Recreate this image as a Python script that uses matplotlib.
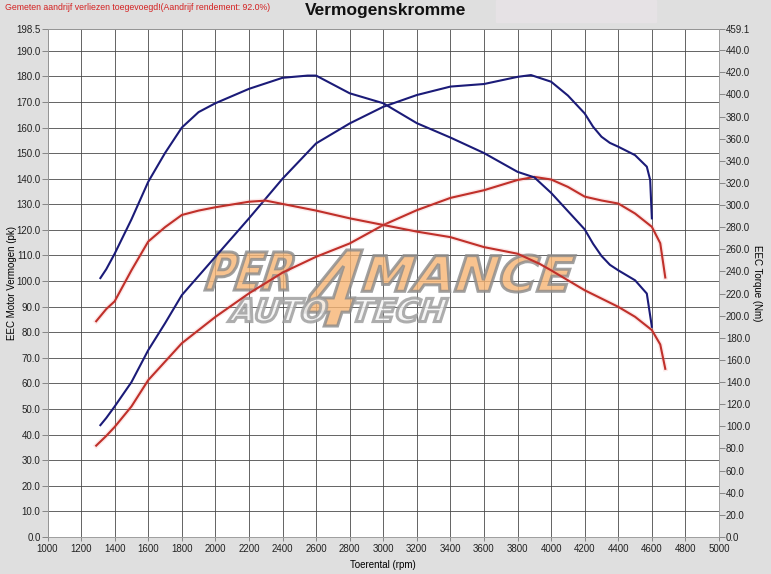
import numpy as np
import matplotlib
matplotlib.use('Agg')
import matplotlib.pyplot as plt
from matplotlib.textpath import TextPath
from matplotlib.patches import PathPatch, Rectangle
from matplotlib.font_manager import FontProperties
from matplotlib.transforms import Affine2D
from matplotlib.ticker import FormatStrFormatter

plt.rcParams['font.family'] = ['Liberation Sans', 'DejaVu Sans']

# --- data ---
rpm_tq_tuned = [1315, 1350, 1400, 1500, 1600, 1700, 1800, 1900, 2000, 2200, 2400, 2550, 2600,
                2800, 3000, 3200, 3400, 3600, 3800, 3900, 4000, 4200, 4250, 4300, 4350, 4400,
                4500, 4570, 4600]
tq_tuned = [234, 242, 256, 287, 321, 347, 370, 384, 392, 405, 415, 417, 417,
            401, 392, 374, 361, 347, 330, 325, 311, 278, 265, 254, 246, 241,
            232, 220, 190]

rpm_tq_stock = [1290, 1350, 1400, 1500, 1600, 1700, 1800, 1900, 2000, 2200, 2300, 2400, 2600,
                2800, 3000, 3200, 3400, 3600, 3800, 3930, 4000, 4200, 4400, 4500, 4600, 4650, 4680]
tq_stock = [195, 206, 213, 241, 267, 280, 291, 295, 298, 303, 304, 301, 295,
            288, 282, 276, 271, 262, 256, 247, 241, 223, 208, 199, 187, 174, 152]

rpm_pk_tuned = [1315, 1350, 1400, 1500, 1600, 1700, 1800, 2000, 2200, 2400, 2600, 2800, 3000,
                3200, 3400, 3600, 3800, 3880, 4000, 4100, 4200, 4250, 4300, 4350, 4400, 4500,
                4570, 4590, 4600]
pk_tuned = [43.7, 46.5, 51.0, 60.5, 73.0, 83.5, 94.5, 109.5, 124.5, 140.0, 153.8, 161.6, 168.1,
            172.7, 176.0, 177.0, 179.8, 180.5, 177.9, 172.5, 165.5, 160.3, 156.4, 154.0, 152.5, 149.2,
            144.7, 139.5, 124.5]

rpm_pk_stock = [1290, 1350, 1400, 1500, 1600, 1700, 1800, 2000, 2200, 2400, 2600, 2800, 3000,
                3200, 3400, 3600, 3800, 3900, 4000, 4100, 4200, 4300, 4400, 4500, 4600, 4650, 4680]
pk_stock = [35.7, 39.5, 43.0, 51.0, 61.3, 68.5, 75.7, 86.0, 95.2, 103.3, 109.5, 114.7, 121.9,
            127.7, 132.5, 135.5, 139.5, 140.7, 139.7, 136.8, 133.0, 131.5, 130.3, 126.4, 121.2,
            114.8, 101.4]

x_ticks = list(range(1000, 5001, 200))
pk_ticks = list(range(0, 191, 10)) + [198.5]
nm_ticks = list(range(0, 441, 20)) + [459.1]

W, H = 771, 574
BLUE = '#1b1b78'
RED = '#c0302a'
BG = '#dfdfdf'

fig = plt.figure(figsize=(W / 100, H / 100), dpi=100, facecolor=BG)
ax = fig.add_axes([47.5 / W, (H - 537) / H, (719 - 47.5) / W, (537 - 29) / H])
ax.set_facecolor('white')
ax.set_xlim(1000, 5000)
ax.set_ylim(0, 198.5)
ax2 = ax.twinx()
ax2.set_ylim(0, 459.1)

ax.set_xticks(x_ticks)
ax.set_xticklabels([str(v) for v in x_ticks])
ax.set_yticks(pk_ticks)
ax.yaxis.set_major_formatter(FormatStrFormatter('%.1f'))
ax2.set_yticks(nm_ticks)
ax2.yaxis.set_major_formatter(FormatStrFormatter('%.1f'))

ax.grid(True, color='#4a4a4a', lw=0.6)
ax.set_axisbelow(True)
for a in (ax, ax2):
    a.tick_params(labelsize=7, length=4, width=0.6, color='#777777', pad=1, labelcolor='#222222')
    for s in a.spines.values():
        s.set_color('#9a9a9a')
        s.set_linewidth(0.5)
ax.tick_params(axis='x', length=3, pad=2)

ax.set_xlabel('Toerental (rpm)', fontsize=7, labelpad=4)
ax.set_ylabel('EEC Motor Vermogen (pk)', fontsize=7)
ax.yaxis.set_label_coords((17 - 47.5) / 671.5, 0.5)
ax2.set_ylabel('EEC Torque (Nm)', fontsize=7, rotation=270, va='bottom')
ax2.yaxis.set_label_coords((752 - 47.5) / 671.5, 0.5)

# watermark logo
fp = FontProperties(family='DejaVu Sans', weight='bold')


def logo_word(txt, x0, x1, ytop, ybot, face, edge):
    p = TextPath((0, 0), txt, size=100, prop=fp)
    bb = p.get_extents()
    h = ybot - ytop
    sh = np.tan(np.radians(18))
    sx = ((x1 - x0) - h * sh) / bb.width
    sy = h / bb.height
    tr = (Affine2D().translate(-bb.x0, -bb.y0).scale(sx, sy)
          .skew(np.arctan(sh), 0).translate(x0, H - ybot))
    ax.add_patch(PathPatch(p, transform=tr, facecolor=face, edgecolor=edge,
                           lw=2.2, alpha=0.8, zorder=2))


ORANGE = '#f7b473'
logo_word('PER', 205, 300, 252, 290, ORANGE, '#8a8a8a')
logo_word('4', 300, 370, 250, 326, ORANGE, '#8a8a8a')
logo_word('MANCE', 362, 576, 255, 292, ORANGE, '#8a8a8a')
logo_word('AUTO', 228, 330, 298, 322, '#f4f4f4', '#9a9a9a')
logo_word('TECH', 348, 448, 298, 322, '#f4f4f4', '#9a9a9a')

# curves
ax.plot(rpm_pk_stock, pk_stock, color='#f09090', lw=3.5, alpha=0.2, zorder=3)
ax.plot(rpm_pk_stock, pk_stock, color=RED, lw=1.5, zorder=4)
ax.plot(rpm_pk_tuned, pk_tuned, color=BLUE, lw=1.5, zorder=4)
ax2.plot(rpm_tq_stock, tq_stock, color='#f09090', lw=3.5, alpha=0.2, zorder=3)
ax2.plot(rpm_tq_stock, tq_stock, color=RED, lw=1.5, zorder=4)
ax2.plot(rpm_tq_tuned, tq_tuned, color=BLUE, lw=1.5, zorder=4)

# header
fig.patches.append(Rectangle((496 / W, 1 - 22 / H), 160 / W, 22 / H,
                             transform=fig.transFigure, color='#e6e2e5', zorder=0))
fig.text(5 / W, 1 - 7 / H, 'Gemeten aandrijf verliezen toegevoegd!(Aandrijf rendement: 92.0%)',
         fontsize=6.3, color='#d42222', va='center', ha='left')
fig.text(386 / W, 1 - 11 / H, 'Vermogenskromme', fontsize=12.5, fontweight='bold',
         va='center', ha='center', color='#111111')

fig.savefig('out.png', dpi=100, facecolor=BG)
